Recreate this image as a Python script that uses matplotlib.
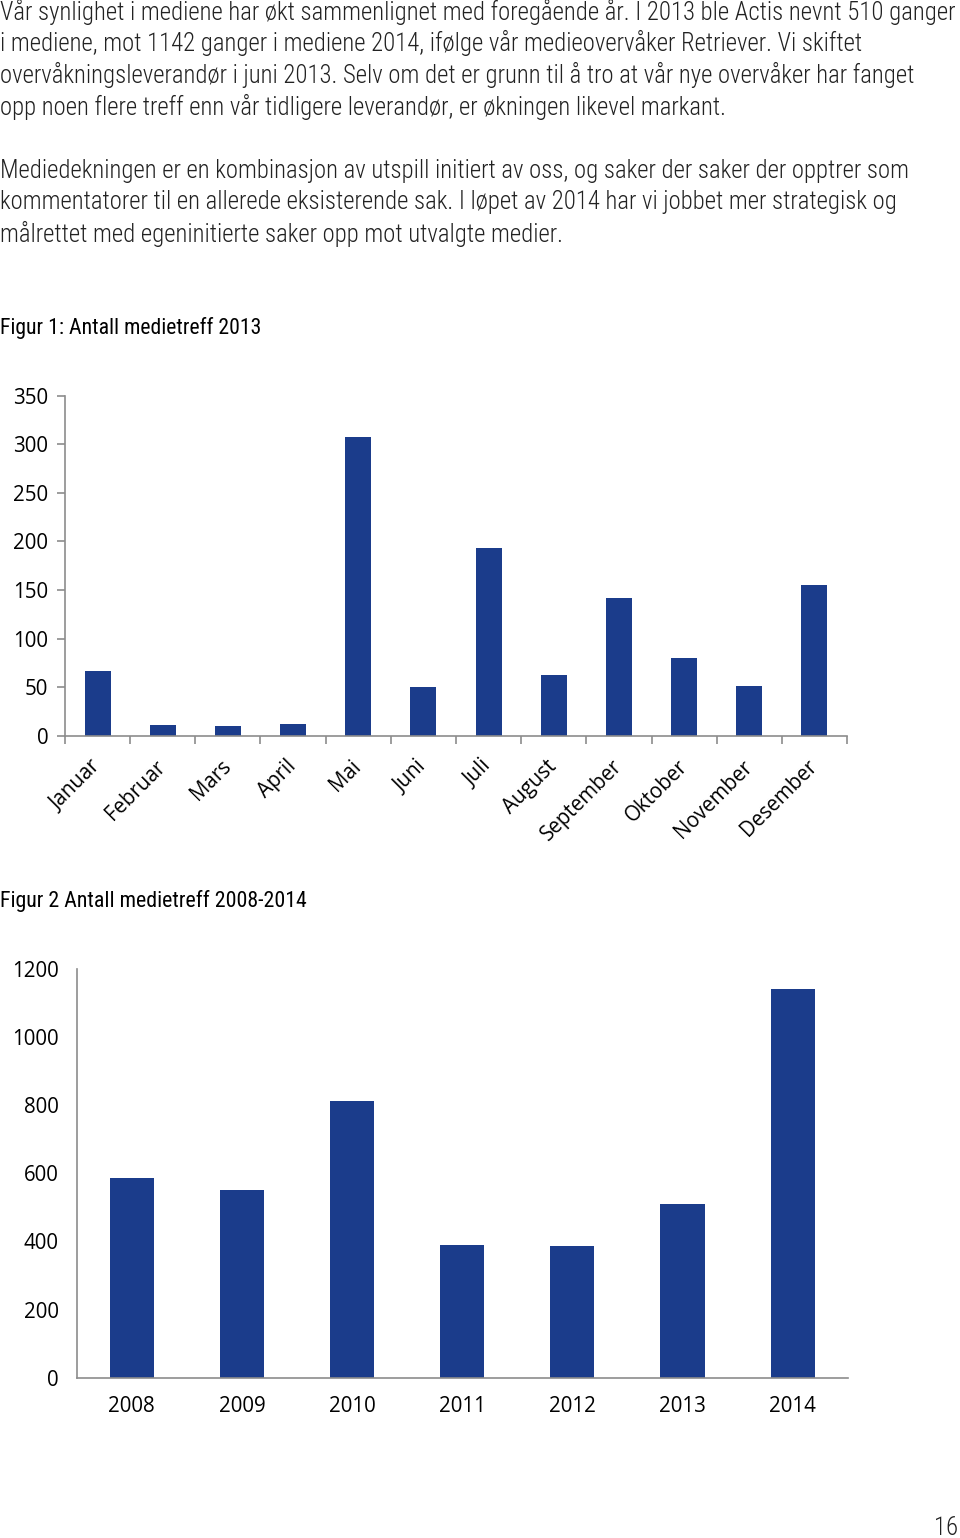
import matplotlib
matplotlib.use("Agg")
import matplotlib.pyplot as plt
from matplotlib import font_manager
import numpy as np

# ---------------- data ----------------
months = ["Januar", "Februar", "Mars", "April", "Mai", "Juni", "Juli",
          "August", "September", "Oktober", "November", "Desember"]
hits_2013 = [67, 11, 10, 12, 308, 50, 193, 63, 142, 80, 51, 155]
yticks_1 = [0, 50, 100, 150, 200, 250, 300, 350]

years = ["2008", "2009", "2010", "2011", "2012", "2013", "2014"]
hits_years = [585, 552, 813, 389, 387, 510, 1142]
yticks_2 = [0, 200, 400, 600, 800, 1000, 1200]

body_lines = [
    "Vår synlighet i mediene har økt sammenlignet med foregående år. I 2013 ble Actis nevnt 510 ganger",
    "i mediene, mot 1142 ganger i mediene 2014, ifølge vår medieovervåker Retriever. Vi skiftet",
    "overvåkningsleverandør i juni 2013. Selv om det er grunn til å tro at vår nye overvåker har fanget",
    "opp noen flere treff enn vår tidligere leverandør, er økningen likevel markant.",
    "Mediedekningen er en kombinasjon av utspill initiert av oss, og saker der saker der opptrer som",
    "kommentatorer til en allerede eksisterende sak. I løpet av 2014 har vi jobbet mer strategisk og",
    "målrettet med egeninitierte saker opp mot utvalgte medier.",
]
title_1 = "Figur 1: Antall medietreff 2013"
title_2 = "Figur 2 Antall medietreff 2008-2014"

# ---------------- style ----------------
W, H = 960, 1538
DPI = 100
BAR = "#1b3c8b"
AX = "#8c8c8c"

available = {f.name for f in font_manager.fontManager.ttflist}
def pick(cands):
    for c in cands:
        if c in available:
            return c
    return "DejaVu Sans"

narrow = pick(["Liberation Sans Narrow", "DejaVu Sans Condensed", "Roboto Condensed",
               "Open Sans Condensed", "Noto Sans", "DejaVu Sans"])
tickfont = pick(["Open Sans", "Noto Sans", "DejaVu Sans"])

fig = plt.figure(figsize=(W / DPI, H / DPI), dpi=DPI)

def fy(py):
    return 1 - py / H

def fit_size(txt, target, weight="light"):
    probe = fig.text(0, 0, txt, fontsize=16, family=[narrow, "DejaVu Sans"], weight=weight)
    fig.canvas.draw()
    w = probe.get_window_extent().width
    probe.remove()
    return 16 * target / w

body_fs = fit_size(body_lines[0], 955)

line_y = [12, 43, 75, 107, 171, 202, 234]
for txt, y in zip(body_lines, line_y):
    fig.text(0.0, fy(y), txt, fontsize=body_fs, family=[narrow, "DejaVu Sans"],
             weight="light", color="#222222", va="center", ha="left")

t1_fs = fit_size(title_1, 262, "normal")
t2_fs = fit_size(title_2, 308, "normal")
fig.text(0.0, fy(328), title_1, fontsize=t1_fs, family=[narrow, "DejaVu Sans"],
         color="#000000", va="center", ha="left")
fig.text(0.0, fy(901), title_2, fontsize=t2_fs, family=[narrow, "DejaVu Sans"],
         color="#000000", va="center", ha="left")
fig.text(958 / W, fy(1528), "16", fontsize=body_fs, family=[narrow, "DejaVu Sans"],
         weight="light", color="#222222", va="center", ha="right")

TFS = 14.8

# ---------------- chart 1 ----------------
l1, r1, t1, b1 = 65, 847, 395.7, 735.7
ax1 = fig.add_axes([l1 / W, 1 - b1 / H, (r1 - l1) / W, (b1 - t1) / H])
x1 = np.arange(len(months))
ax1.bar(x1, hits_2013, width=0.4, color=BAR)
ax1.set_xlim(-0.5, len(months) - 0.5)
ax1.set_ylim(0, 350)
ax1.set_yticks(yticks_1)
ax1.set_yticklabels([str(v) for v in yticks_1], fontsize=TFS, family=tickfont)
ax1.set_xticks(x1)
ax1.set_xticklabels(months, rotation=45, ha="right", va="center",
                    rotation_mode="anchor", fontsize=TFS, family=tickfont)
ax1.set_xticks(np.arange(-0.5, len(months), 1.0), minor=True)
ax1.tick_params(axis="x", which="major", length=0, pad=20)
ax1.tick_params(axis="x", which="minor", length=6, color=AX, width=1.2)
ax1.tick_params(axis="y", length=6, color=AX, width=1.2, pad=6)
for s in ["top", "right"]:
    ax1.spines[s].set_visible(False)
for s in ["left", "bottom"]:
    ax1.spines[s].set_color(AX)
    ax1.spines[s].set_linewidth(1.2)

# ---------------- chart 2 ----------------
l2, r2, t2, b2 = 76.7, 847.7, 969, 1377.7
ax2 = fig.add_axes([l2 / W, 1 - b2 / H, (r2 - l2) / W, (b2 - t2) / H])
x2 = np.arange(len(years))
ax2.bar(x2, hits_years, width=0.4, color=BAR)
ax2.set_xlim(-0.5, len(years) - 0.5)
ax2.set_ylim(0, 1200)
ax2.set_yticks(yticks_2)
ax2.set_yticklabels([str(v) for v in yticks_2], fontsize=TFS, family=tickfont)
ax2.set_xticks(x2)
ax2.set_xticklabels(years, fontsize=TFS, family=tickfont)
ax2.tick_params(axis="x", length=0, pad=13)
ax2.tick_params(axis="y", length=0, pad=13)
for s in ["top", "right"]:
    ax2.spines[s].set_visible(False)
for s in ["left", "bottom"]:
    ax2.spines[s].set_color(AX)
    ax2.spines[s].set_linewidth(1.2)

fig.savefig("out.png", dpi=DPI)
